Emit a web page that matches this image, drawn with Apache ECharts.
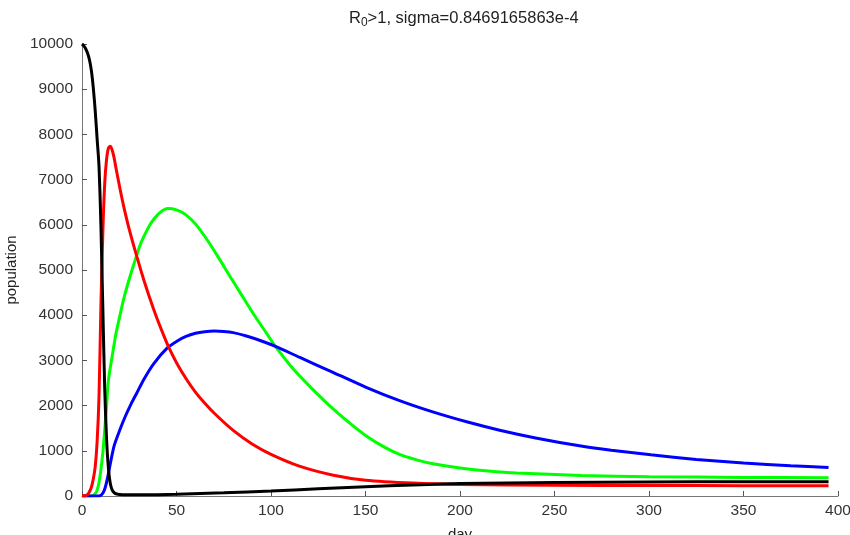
<!DOCTYPE html>
<html>
<head>
<meta charset="utf-8">
<script src="https://cdn.jsdelivr.net/npm/echarts@6/dist/echarts.min.js"></script>
<style>html,body{margin:0;padding:0;background:#fff}#c{width:850px;height:535px}</style>
</head>
<body>
<div id="c"></div>
<script>
var xTicks = [0, 50, 100, 150, 200, 250, 300, 350, 400];
var yTicks = [0, 1000, 2000, 3000, 4000, 5000, 6000, 7000, 8000, 9000, 10000];

var blackDays = [0,1,2,3,4,5,6,7,8,9,10,11,12,13,14,15,16,17,18,20,25,30,40,50,75,100,125,150,175,200,225,250,300,350,395];
var blackVals = [10000,9960,9890,9790,9640,9400,9020,8520,7900,7300,6000,4200,2400,1250,600,270,130,75,50,35,28,25,28,38,70,110,160,205,245,275,290,300,310,315,318];

var redDays = [0,2,3,4,5,6,7,8,9,10,11,12,13,14,15,16,17,18,20,22,25,29,33,38,42,46,50,55,60,65,70,80,90,100,115,133,150,175,200,250,300,350,395];
var redVals = [5,10,30,100,200,380,650,1200,2200,4200,5800,6900,7450,7700,7740,7650,7480,7250,6820,6420,5900,5300,4740,4120,3680,3280,2950,2600,2300,2050,1830,1450,1150,920,660,460,350,285,255,238,232,229,228];

var greenDays = [0,5,6,7,8,9,10,11,12,13,14,16,18,20,22,25,29,31,34,37,40,42.5,45,50,55,60,66,72,78,85,91,97,103,110,116,123,133,142,150,160,168,177,185,200,215,230,264,300,350,395];
var greenVals = [0,0,15,50,130,300,580,950,1450,2000,2570,3100,3600,3980,4350,4800,5330,5580,5850,6070,6220,6310,6360,6330,6220,6020,5680,5290,4880,4410,4010,3640,3270,2900,2620,2320,1920,1600,1340,1080,920,800,720,620,555,510,455,428,412,405];

var blueDays = [0,9,10,11,12,13,14,15,17,20,23,26,29,33,38,45,50,55,60,65,70,75,80,87,95,103,115,131,150,168,186,204,221,240,264,280,301,325,350,375,395];
var blueVals = [0,0,15,60,150,300,500,720,1110,1460,1770,2040,2280,2600,2930,3270,3420,3530,3600,3635,3648,3640,3615,3540,3430,3300,3070,2770,2410,2110,1855,1636,1456,1285,1105,1012,911,810,728,670,628];

function pairs(d, v) { return d.map(function (x, i) { return [x, v[i]]; }); }

var chart = echarts.init(document.getElementById('c'), null, { renderer: 'canvas' });
var font = 'Liberation Sans, Arial, Helvetica, sans-serif';
function mk(name, color, d, v) {
  return {
    name: name, type: 'line', data: pairs(d, v), showSymbol: false, symbol: 'none',
    smooth: 0.25, lineStyle: { color: color, width: 3 }, itemStyle: { color: color },
    animation: false
  };
}
chart.setOption({
  animation: false,
  backgroundColor: '#ffffff',
  title: {
    text: '{r|R}{s|0}{r|>1, sigma=0.8469165863e-4}',
    left: 344, top: 3,
    textStyle: {
      rich: {
        r: { fontFamily: font, fontSize: 16.5, color: '#222', fontWeight: 'normal' },
        s: { fontFamily: font, fontSize: 12, color: '#222', fontWeight: 'normal', verticalAlign: 'bottom', padding: [9, 0, 0, 0] }
      }
    }
  },
  grid: { left: 82, right: 12, top: 44, bottom: 39, containLabel: false, outerBoundsMode: 'none' },
  xAxis: {
    type: 'value', min: 0, max: 400, interval: 50,
    name: 'day', nameLocation: 'middle', nameGap: 31,
    nameTextStyle: { fontFamily: font, fontSize: 15, color: '#222' },
    axisLine: { show: true, lineStyle: { color: '#777', width: 1 } },
    axisTick: { show: true, inside: true, length: 5, lineStyle: { color: '#555' } },
    axisLabel: { fontFamily: font, fontSize: 15.5, color: '#333', margin: 7,
      formatter: function (v) { return xTicks.indexOf(v) >= 0 ? String(v) : ''; } },
    splitLine: { show: false }
  },
  yAxis: {
    type: 'value', min: 0, max: 10000, interval: 1000,
    name: 'population', nameLocation: 'middle', nameGap: 60,
    nameTextStyle: { fontFamily: font, fontSize: 15, color: '#222' },
    axisLine: { show: true, lineStyle: { color: '#777', width: 1 } },
    axisTick: { show: true, inside: true, length: 5, lineStyle: { color: '#555' } },
    axisLabel: { fontFamily: font, fontSize: 15.5, color: '#333', margin: 9,
      formatter: function (v) { return yTicks.indexOf(v) >= 0 ? String(v) : ''; } },
    splitLine: { show: false }
  },
  series: [
    mk('green', '#00ff00', greenDays, greenVals),
    mk('blue', '#0000ff', blueDays, blueVals),
    mk('red', '#ff0000', redDays, redVals),
    mk('black', '#000000', blackDays, blackVals)
  ]
});
</script>
</body>
</html>
